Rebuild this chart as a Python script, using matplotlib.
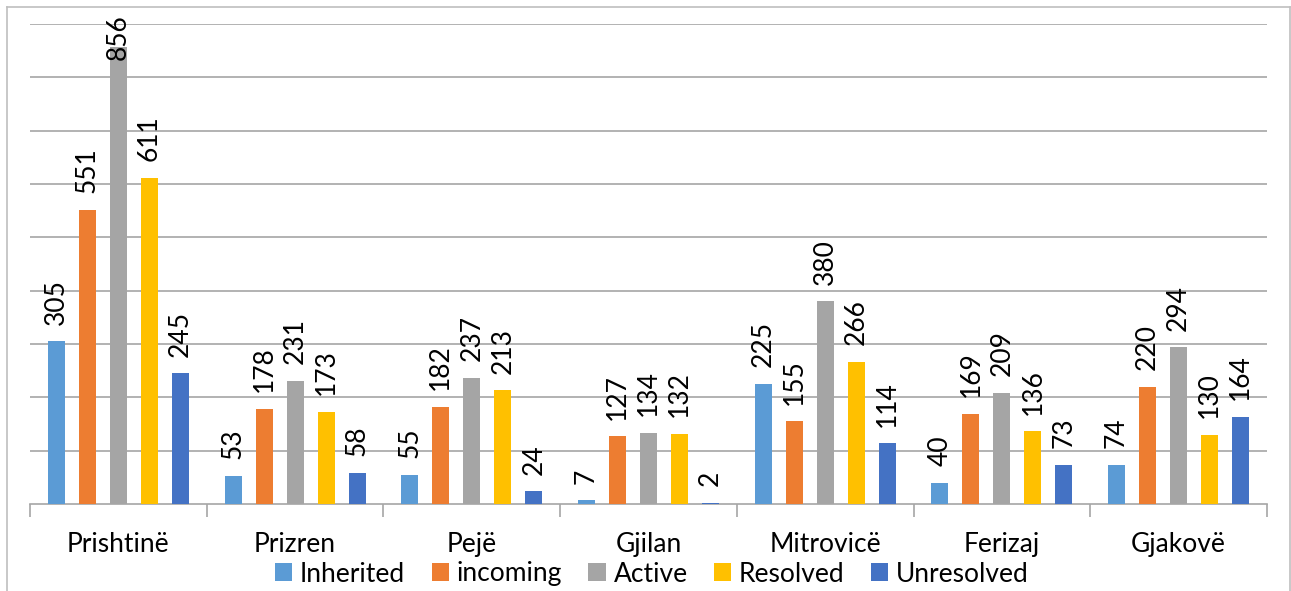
import numpy as np
import matplotlib.pyplot as plt
from matplotlib.patches import Patch

plt.rcParams['font.family'] = ['Lato', 'DejaVu Sans']

# regions on the x axis
regions = ["Prishtinë", "Prizren", "Pejë", "Gjilan", "Mitrovicë", "Ferizaj", "Gjakovë"]

inherited = [305, 53, 55, 7, 225, 40, 74]
incoming = [551, 178, 182, 127, 155, 169, 220]
active = [856, 231, 237, 134, 380, 209, 294]
resolved = [611, 173, 213, 132, 266, 136, 130]
unresolved = [245, 58, 24, 2, 114, 73, 164]

series_names = ["Inherited", "incoming", "Active", "Resolved", "Unresolved"]
series_vals = [inherited, incoming, active, resolved, unresolved]
colors = ["#5B9BD5", "#ED7D31", "#A5A5A5", "#FFC000", "#4472C4"]

FS = 19

fig = plt.figure(figsize=(12.91, 5.91), dpi=100)
ax = fig.add_axes([30 / 1291, 87 / 591, (1267 - 30) / 1291, (504 - 24) / 591])

x = np.arange(len(regions))
step = 0.1755
width = 0.096
labels = []
for i, (name, vals, c) in enumerate(zip(series_names, series_vals, colors)):
    pos = x + (i - 2) * step
    ax.bar(pos, vals, width=width, color=c, label=name, zorder=3)
    for px, v in zip(pos, vals):
        t = ax.annotate(str(v), (px, v), xytext=(0, 12), textcoords="offset points",
                        rotation=90, ha="center", va="bottom", fontsize=FS,
                        annotation_clip=False, zorder=4)
        labels.append(t)

ax.set_xlim(-0.5, len(regions) - 0.5)
ax.set_ylim(0, 900)
ax.set_yticks(np.arange(100, 901, 100))
ax.yaxis.grid(True, color="#A6A6A6", linewidth=1.2, zorder=0)
ax.tick_params(axis="y", left=False, labelleft=False)

# category boundaries as ticks
ax.set_xticks(np.arange(-0.5, len(regions), 1))
ax.set_xticklabels([])
ax.tick_params(axis="x", length=9, color="#A6A6A6", width=1.2)
ax.set_xticks(x, minor=True)
ax.set_xticklabels(regions, minor=True, fontsize=FS)
ax.tick_params(axis="x", which="minor", length=0, pad=20)

for s in ["top", "right", "left"]:
    ax.spines[s].set_visible(False)
ax.spines["bottom"].set_color("#A6A6A6")
ax.spines["bottom"].set_linewidth(1.2)

# keep labels inside the figure border
fig.canvas.draw()
r = fig.canvas.get_renderer()
for t in labels:
    bb = t.get_window_extent(r)
    top_limit = 591 - 14
    if bb.y1 > top_limit:
        t.xyann = (0, 12 - (bb.y1 - top_limit) * 72 / 100)

handles = [Patch(facecolor=c, label=n) for n, c in zip(series_names, colors)]
fig.legend(handles=handles, loc="center", bbox_to_anchor=(652 / 1291, 1 - 574 / 591),
           ncol=5, frameon=False, fontsize=FS, handlelength=0.65, handleheight=0.65,
           handletextpad=0.3, columnspacing=1.0, borderaxespad=0)

# outer chart border
for xs, ys in [([7, 7], [0, 584]), ([7, 1290], [584, 584]), ([1290, 1290], [584, 0])]:
    fig.add_artist(plt.Line2D([v / 1291 for v in xs], [v / 591 for v in ys],
                              color="#BFBFBF", linewidth=1.2))

fig.savefig("out.png", dpi=100)
